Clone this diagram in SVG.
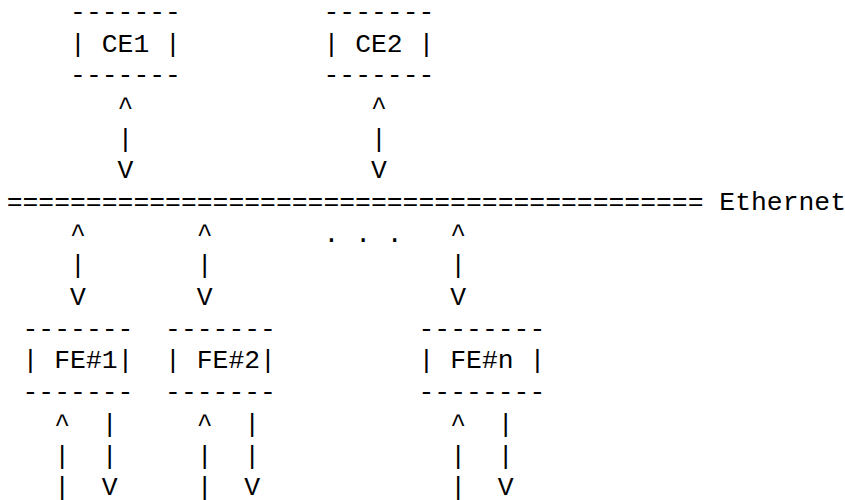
<svg xmlns="http://www.w3.org/2000/svg" width="845" height="500" viewBox="0 0 845 500">
<style>
text { font-family: "Liberation Mono", "Courier New", monospace; font-size: 26.4px; fill: #000; white-space: pre; }
</style>
<rect width="845" height="500" fill="#fff"/>
<g id="ce1">
<text x="70.06" y="20">-------</text>
<text x="70.06" y="51.68" xml:space="preserve">| CE1 |</text>
<text x="70.06" y="83.36">-------</text>
</g>
<g id="ce2">
<text x="323.5" y="20">-------</text>
<text x="323.5" y="51.68" xml:space="preserve">| CE2 |</text>
<text x="323.5" y="83.36">-------</text>
</g>
<g id="ethernet">
<text x="6.7" y="210.08" xml:space="preserve">============================================ Ethernet</text>
</g>
<g id="fe1">
<text x="22.54" y="336.8">-------</text>
<text x="22.54" y="368.48" xml:space="preserve">| FE#1|</text>
<text x="22.54" y="400.16">-------</text>
</g>
<g id="fe2">
<text x="165.1" y="336.8">-------</text>
<text x="165.1" y="368.48" xml:space="preserve">| FE#2|</text>
<text x="165.1" y="400.16">-------</text>
</g>
<g id="fen">
<text x="418.54" y="336.8">--------</text>
<text x="418.54" y="368.48" xml:space="preserve">| FE#n |</text>
<text x="418.54" y="400.16">--------</text>
</g>
<g id="connectors">
<text x="117.58"><tspan x="117.58" y="115.04">^</tspan><tspan x="117.58" y="146.72">|</tspan><tspan x="117.58" y="178.4">V</tspan></text>
<text x="371.02"><tspan x="371.02" y="115.04">^</tspan><tspan x="371.02" y="146.72">|</tspan><tspan x="371.02" y="178.4">V</tspan></text>
<text x="70.06"><tspan x="70.06" y="241.76">^</tspan><tspan x="70.06" y="273.44">|</tspan><tspan x="70.06" y="305.12">V</tspan></text>
<text x="196.78"><tspan x="196.78" y="241.76">^</tspan><tspan x="196.78" y="273.44">|</tspan><tspan x="196.78" y="305.12">V</tspan></text>
<text x="450.22"><tspan x="450.22" y="241.76">^</tspan><tspan x="450.22" y="273.44">|</tspan><tspan x="450.22" y="305.12">V</tspan></text>
<text x="323.5" y="241.76" xml:space="preserve">. . .</text>
<text x="54.22"><tspan x="54.22" y="431.84">^</tspan><tspan x="54.22" y="463.52">|</tspan><tspan x="54.22" y="495.2">|</tspan></text>
<text x="101.74"><tspan x="101.74" y="431.84">|</tspan><tspan x="101.74" y="463.52">|</tspan><tspan x="101.74" y="495.2">V</tspan></text>
<text x="196.78"><tspan x="196.78" y="431.84">^</tspan><tspan x="196.78" y="463.52">|</tspan><tspan x="196.78" y="495.2">|</tspan></text>
<text x="244.3"><tspan x="244.3" y="431.84">|</tspan><tspan x="244.3" y="463.52">|</tspan><tspan x="244.3" y="495.2">V</tspan></text>
<text x="450.22"><tspan x="450.22" y="431.84">^</tspan><tspan x="450.22" y="463.52">|</tspan><tspan x="450.22" y="495.2">|</tspan></text>
<text x="497.74"><tspan x="497.74" y="431.84">|</tspan><tspan x="497.74" y="463.52">|</tspan><tspan x="497.74" y="495.2">V</tspan></text>
</g>
</svg>
